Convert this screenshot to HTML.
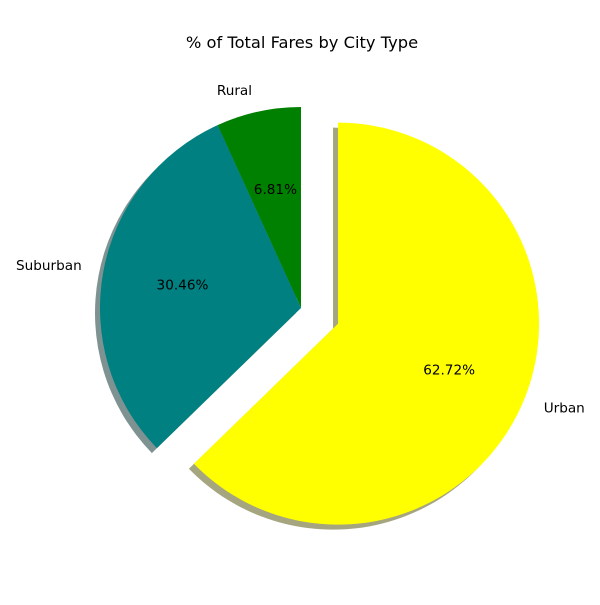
<!DOCTYPE html>
<html><head><meta charset="utf-8"><style>
body{margin:0;background:#fff}
text{font-family:"DejaVu Sans","Liberation Sans",sans-serif;font-size:13.6px;fill:#000}
</style></head><body>
<svg id="chart" width="600" height="600" viewBox="0 0 600 600">
<text x="302" y="48" text-anchor="middle" style="font-size:16.3px">% of Total Fares by City Type</text>
<g id="g"></g>
</svg>
<script>
const categories=["Rural","Suburban","Urban"];
const values=[6.81,30.46,62.72];
const explode=[0,0,0.2];
const colors=["green","teal","yellow"];
const cx=301,cy=308,R=201,NS="http://www.w3.org/2000/svg";
const g=document.getElementById('g');
const tot=values.reduce((a,b)=>a+b,0);
function pt(x,y,r,a){const t=a*Math.PI/180;return [x+r*Math.cos(t),y-r*Math.sin(t)];}
function arc(x,y,a0,a1){const p0=pt(x,y,R,a0),p1=pt(x,y,R,a1);const lg=(a1-a0)>180?1:0;
return `M${x},${y}L${p0[0]},${p0[1]}A${R},${R} 0 ${lg} 0 ${p1[0]},${p1[1]}Z`;}
let a=90;const geo=[];
values.forEach((v,i)=>{const a1=a+v/tot*360;const m=(a+a1)/2;const c=pt(cx,cy,explode[i]*R,m);geo.push({a0:a,a1,m,c});a=a1;});
geo.forEach((s,i)=>{const p=document.createElementNS(NS,'path');
p.setAttribute('d',arc(s.c[0]-5,s.c[1]+5,s.a0,s.a1));p.setAttribute('fill',colors[i]);p.setAttribute('fill-opacity','0.5');
p.style.fill=colors[i];p.style.filter='brightness(0.3)';


g.appendChild(p);});
geo.forEach((s,i)=>{const p=document.createElementNS(NS,'path');
p.setAttribute('d',arc(s.c[0],s.c[1],s.a0,s.a1));p.setAttribute('fill',colors[i]);


g.appendChild(p);
const l=pt(s.c[0],s.c[1],R*1.1,s.m);const t=document.createElementNS(NS,'text');
const anc=l[0]<cx-5?'end':(l[0]>cx+5?'start':'middle');
t.setAttribute('x',l[0]+(anc==='end'?-2:(anc==='start'?2:0)));t.setAttribute('y',l[1]+3);
t.setAttribute('text-anchor',anc);
t.textContent=categories[i];


g.appendChild(t);
const q=pt(s.c[0],s.c[1],R*0.6,s.m);const u=document.createElementNS(NS,'text');
u.setAttribute('x',q[0]);u.setAttribute('y',q[1]+4);u.setAttribute('text-anchor','middle');
u.textContent=values[i].toFixed(2)+'%';


g.appendChild(u);});
</script>
</body></html>
